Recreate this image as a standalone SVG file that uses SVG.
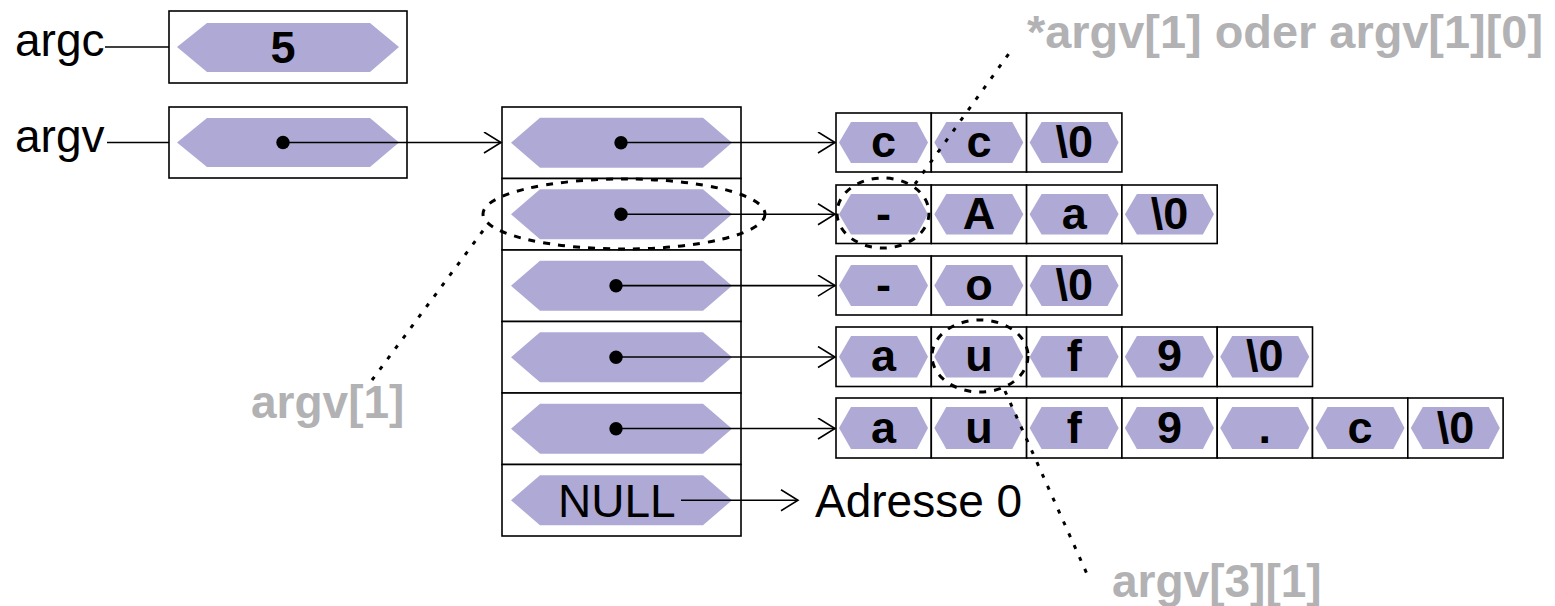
<svg xmlns="http://www.w3.org/2000/svg" width="1555" height="606" viewBox="0 0 1555 606">
<style>
.box{fill:#fff;stroke:#000;stroke-width:1.6}
.hex{fill:#aeaad5;stroke:none}
.lbl{font-family:"Liberation Sans",Arial,sans-serif;font-size:46px;fill:#000}
.ch{font-family:"Liberation Sans",Arial,sans-serif;font-size:45px;font-weight:bold;fill:#000;text-anchor:middle}
.gray{font-family:"Liberation Sans",Arial,sans-serif;font-size:46px;font-weight:bold;fill:#b2b2b4}
.ln{stroke:#000;stroke-width:1.6;fill:none}
.arr{stroke:#000;stroke-width:1.6;fill:none;marker-end:url(#open)}
.dash{stroke:#000;stroke-width:3;fill:none;stroke-dasharray:7 8}
.dotl{stroke:#000;stroke-width:3;fill:none;stroke-dasharray:4 9}
.dot{fill:#000}
</style>
<defs>
<marker id="open" markerUnits="userSpaceOnUse" markerWidth="22" markerHeight="24" refX="18" refY="11" orient="auto">
<path d="M1,0.5 L18,11 L1,21.5" fill="none" stroke="#000" stroke-width="1.6"/>
</marker>
</defs>

<g id="argc">
<text class="lbl" x="15" y="56">argc</text>
<rect class="box" x="169" y="11" width="238" height="72"/>
<polygon class="hex" points="177,47 207,23 370,23 399,47 370,72 207,72"/>
<text class="ch" x="283" y="63" font-size="46">5</text>
</g>

<g id="argv">
<text class="lbl" x="15" y="152">argv</text>
<rect class="box" x="169" y="107" width="238" height="71"/>
<polygon class="hex" points="177,142.5 207,118 370,118 399,142.5 370,167 207,167"/>
<circle class="dot" cx="283" cy="142.5" r="6.7"/>
</g>

<g id="ptr-array">
<g id="ptr0"><rect class="box" x="502" y="107" width="239" height="71.5"/><polygon class="hex" points="511,142.75 540,117.75 703,117.75 732,142.75 703,167.75 540,167.75"/><circle class="dot" cx="621" cy="142.75" r="6.7"/></g>
<g id="ptr1"><rect class="box" x="502" y="178.5" width="239" height="71.5"/><polygon class="hex" points="511,214.25 540,189.25 703,189.25 732,214.25 703,239.25 540,239.25"/><circle class="dot" cx="621" cy="214.25" r="6.7"/></g>
<g id="ptr2"><rect class="box" x="502" y="250" width="239" height="71.5"/><polygon class="hex" points="511,285.75 540,260.75 703,260.75 732,285.75 703,310.75 540,310.75"/><circle class="dot" cx="616" cy="285.75" r="6.7"/></g>
<g id="ptr3"><rect class="box" x="502" y="321.5" width="239" height="71.5"/><polygon class="hex" points="511,357.25 540,332.25 703,332.25 732,357.25 703,382.25 540,382.25"/><circle class="dot" cx="616" cy="357.25" r="6.7"/></g>
<g id="ptr4"><rect class="box" x="502" y="393" width="239" height="71.5"/><polygon class="hex" points="511,428.75 540,403.75 703,403.75 732,428.75 703,453.75 540,453.75"/><circle class="dot" cx="616" cy="428.75" r="6.7"/></g>
<g id="ptr5"><rect class="box" x="502" y="464.5" width="239" height="71.5"/><polygon class="hex" points="511,500.25 540,475.25 703,475.25 732,500.25 703,525.25 540,525.25"/><text class="lbl" x="558" y="517">NULL</text></g>
</g>

<g id="adresse0"><text class="lbl" x="815" y="517">Adresse 0</text></g>

<g id="str0">
<g><rect class="box" x="836" y="113" width="95.3" height="59"/><polygon class="hex" points="839,142.5 851,122 917,122 928,142.5 917,163 851,163"/><text class="ch" x="883.6" y="157">c</text></g>
<g><rect class="box" x="931.3" y="113" width="95.3" height="59"/><polygon class="hex" points="934.3,142.5 946.3,122 1012.3,122 1023.3,142.5 1012.3,163 946.3,163"/><text class="ch" x="978.9" y="157">c</text></g>
<g><rect class="box" x="1026.6" y="113" width="95.3" height="59"/><polygon class="hex" points="1029.6,142.5 1041.6,122 1107.6,122 1118.6,142.5 1107.6,163 1041.6,163"/><text class="ch" x="1074.2" y="157">\0</text></g>
</g>

<g id="str1">
<g><rect class="box" x="836" y="185" width="95.3" height="58.5"/><polygon class="hex" points="839,214.25 851,194 917,194 928,214.25 917,234.5 851,234.5"/><text class="ch" x="883.6" y="229">-</text></g>
<g><rect class="box" x="931.3" y="185" width="95.3" height="58.5"/><polygon class="hex" points="934.3,214.25 946.3,194 1012.3,194 1023.3,214.25 1012.3,234.5 946.3,234.5"/><text class="ch" x="978.9" y="229">A</text></g>
<g><rect class="box" x="1026.6" y="185" width="95.3" height="58.5"/><polygon class="hex" points="1029.6,214.25 1041.6,194 1107.6,194 1118.6,214.25 1107.6,234.5 1041.6,234.5"/><text class="ch" x="1074.2" y="229">a</text></g>
<g><rect class="box" x="1121.9" y="185" width="95.3" height="58.5"/><polygon class="hex" points="1124.9,214.25 1136.9,194 1202.9,194 1213.9,214.25 1202.9,234.5 1136.9,234.5"/><text class="ch" x="1169.5" y="229">\0</text></g>
</g>

<g id="str2">
<g><rect class="box" x="836" y="256" width="95.3" height="59"/><polygon class="hex" points="839,285.5 851,265 917,265 928,285.5 917,306 851,306"/><text class="ch" x="883.6" y="300">-</text></g>
<g><rect class="box" x="931.3" y="256" width="95.3" height="59"/><polygon class="hex" points="934.3,285.5 946.3,265 1012.3,265 1023.3,285.5 1012.3,306 946.3,306"/><text class="ch" x="978.9" y="300">o</text></g>
<g><rect class="box" x="1026.6" y="256" width="95.3" height="59"/><polygon class="hex" points="1029.6,285.5 1041.6,265 1107.6,265 1118.6,285.5 1107.6,306 1041.6,306"/><text class="ch" x="1074.2" y="300">\0</text></g>
</g>

<g id="str3">
<g><rect class="box" x="836" y="327" width="95.3" height="59.5"/><polygon class="hex" points="839,356.75 851,336 917,336 928,356.75 917,377.5 851,377.5"/><text class="ch" x="883.6" y="371">a</text></g>
<g><rect class="box" x="931.3" y="327" width="95.3" height="59.5"/><polygon class="hex" points="934.3,356.75 946.3,336 1012.3,336 1023.3,356.75 1012.3,377.5 946.3,377.5"/><text class="ch" x="978.9" y="371">u</text></g>
<g><rect class="box" x="1026.6" y="327" width="95.3" height="59.5"/><polygon class="hex" points="1029.6,356.75 1041.6,336 1107.6,336 1118.6,356.75 1107.6,377.5 1041.6,377.5"/><text class="ch" x="1074.2" y="371">f</text></g>
<g><rect class="box" x="1121.9" y="327" width="95.3" height="59.5"/><polygon class="hex" points="1124.9,356.75 1136.9,336 1202.9,336 1213.9,356.75 1202.9,377.5 1136.9,377.5"/><text class="ch" x="1169.5" y="371">9</text></g>
<g><rect class="box" x="1217.2" y="327" width="95.3" height="59.5"/><polygon class="hex" points="1220.2,356.75 1232.2,336 1298.2,336 1309.2,356.75 1298.2,377.5 1232.2,377.5"/><text class="ch" x="1264.8" y="371">\0</text></g>
</g>

<g id="str4">
<g><rect class="box" x="836" y="398" width="95.3" height="60"/><polygon class="hex" points="839,428 851,407 917,407 928,428 917,449 851,449"/><text class="ch" x="883.6" y="443">a</text></g>
<g><rect class="box" x="931.3" y="398" width="95.3" height="60"/><polygon class="hex" points="934.3,428 946.3,407 1012.3,407 1023.3,428 1012.3,449 946.3,449"/><text class="ch" x="978.9" y="443">u</text></g>
<g><rect class="box" x="1026.6" y="398" width="95.3" height="60"/><polygon class="hex" points="1029.6,428 1041.6,407 1107.6,407 1118.6,428 1107.6,449 1041.6,449"/><text class="ch" x="1074.2" y="443">f</text></g>
<g><rect class="box" x="1121.9" y="398" width="95.3" height="60"/><polygon class="hex" points="1124.9,428 1136.9,407 1202.9,407 1213.9,428 1202.9,449 1136.9,449"/><text class="ch" x="1169.5" y="443">9</text></g>
<g><rect class="box" x="1217.2" y="398" width="95.3" height="60"/><polygon class="hex" points="1220.2,428 1232.2,407 1298.2,407 1309.2,428 1298.2,449 1232.2,449"/><text class="ch" x="1264.8" y="443">.</text></g>
<g><rect class="box" x="1312.5" y="398" width="95.3" height="60"/><polygon class="hex" points="1315.5,428 1327.5,407 1393.5,407 1404.5,428 1393.5,449 1327.5,449"/><text class="ch" x="1360.1" y="443">c</text></g>
<g><rect class="box" x="1407.8" y="398" width="95.3" height="60"/><polygon class="hex" points="1410.8,428 1422.8,407 1488.8,407 1499.8,428 1488.8,449 1422.8,449"/><text class="ch" x="1455.4" y="443">\0</text></g>
</g>

<g id="connectors">
<line class="ln" x1="105" y1="47" x2="169" y2="47"/>
<line class="ln" x1="107" y1="142.5" x2="169" y2="142.5"/>
<line class="arr" x1="283" y1="142.5" x2="501" y2="142.5"/>
<line class="arr" x1="621" y1="142.5" x2="835" y2="142.5"/>
<line class="arr" x1="621" y1="214.25" x2="835" y2="214.25"/>
<line class="arr" x1="616" y1="285.6" x2="835" y2="285.6"/>
<line class="arr" x1="616" y1="357" x2="835" y2="357"/>
<line class="arr" x1="616" y1="428.5" x2="835" y2="428.5"/>
<line class="arr" x1="681" y1="500.25" x2="798" y2="500.25"/>
</g>

<g id="annotations">
<ellipse class="dash" cx="624" cy="214" rx="141" ry="35"/>
<ellipse class="dash" cx="883" cy="213" rx="46" ry="35"/>
<ellipse class="dash" cx="980" cy="356" rx="48" ry="36"/>
<line class="dotl" x1="372" y1="380" x2="488" y2="224"/>
<line class="dotl" x1="915" y1="184" x2="1013" y2="48"/>
<line class="dotl" x1="1005" y1="391" x2="1087" y2="574"/>
<text class="gray" x="1027" y="48" font-size="47" textLength="516" lengthAdjust="spacingAndGlyphs">*argv[1] oder argv[1][0]</text>
<text class="gray" x="251" y="418">argv[1]</text>
<text class="gray" x="1112" y="597">argv[3][1]</text>
</g>
</svg>
